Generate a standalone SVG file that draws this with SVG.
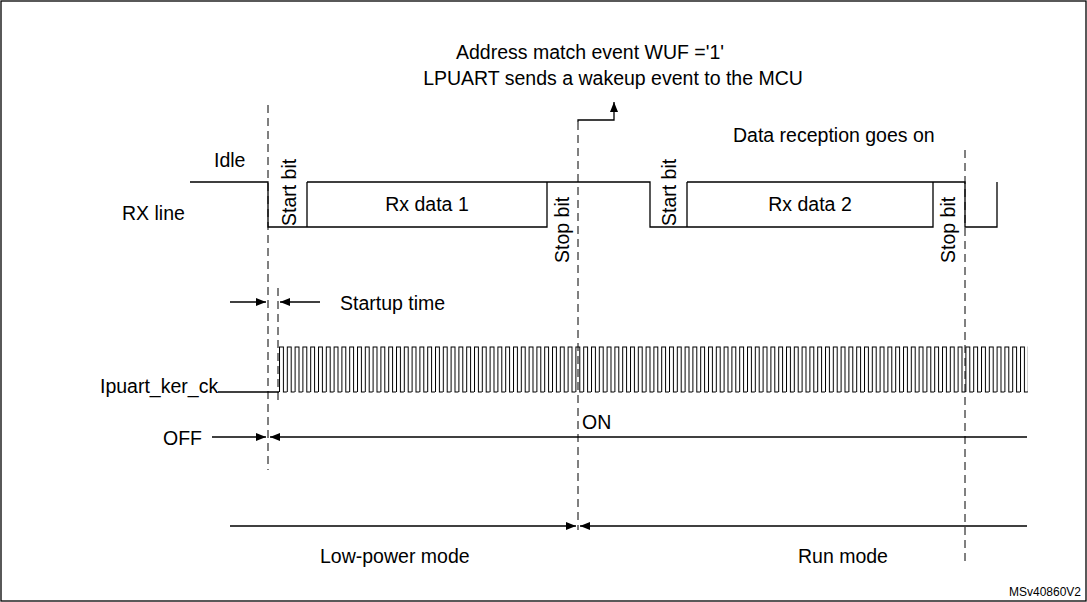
<svg xmlns="http://www.w3.org/2000/svg" width="1087" height="602" viewBox="0 0 1087 602">
<defs>
<style>
text{font-family:"Liberation Sans",Arial,sans-serif;font-size:19.5px;fill:#000}
.l{stroke:#000;stroke-width:1.3;fill:none}
.d{stroke:#000;stroke-width:1;fill:none;stroke-dasharray:8,5}
</style>
<marker id="a" markerWidth="10" markerHeight="8" refX="10" refY="4" orient="auto" markerUnits="userSpaceOnUse"><path d="M0,0L10,4L0,8z" fill="#000"/></marker>
<pattern id="clk" x="279" y="0" width="7.8" height="602" patternUnits="userSpaceOnUse">
<path d="M0.5,392V347H4.4V392H8.3" stroke="#000" stroke-width="1" fill="none"/>
</pattern>
</defs>
<rect x="1" y="1" width="1085" height="600" fill="#fff" stroke="#000" stroke-width="1.3"/>
<g id="labels">
<text x="590" y="59" text-anchor="middle">Address match event WUF ='1'</text>
<text x="613" y="85" text-anchor="middle">LPUART sends a wakeup event to the MCU</text>
<text x="733" y="142">Data reception goes on</text>
<text x="214" y="167">Idle</text>
<text x="122" y="220">RX line</text>
<text x="100" y="393">Ipuart_ker_ck</text>
<text x="340" y="310">Startup time</text>
<text x="163" y="445">OFF</text>
<text x="582" y="429">ON</text>
<text x="320" y="563">Low-power mode</text>
<text x="798" y="563">Run mode</text>
<text x="1081" y="596" text-anchor="end" style="font-size:12px">MSv40860V2</text>
</g>
<g id="rxline">
<path class="l" d="M190,182H268V227H307M307,182H547V227H307V182M547,182H650V227H687M687,182H933V227H687V182M933,182H965V227H997V182"/>
<text x="427" y="211" text-anchor="middle">Rx data 1</text>
<text x="810" y="211" text-anchor="middle">Rx data 2</text>
<text transform="translate(296,226) rotate(-90)">Start bit</text>
<text transform="translate(569,263) rotate(-90)">Stop bit</text>
<text transform="translate(676,226) rotate(-90)">Start bit</text>
<text transform="translate(955,263) rotate(-90)">Stop bit</text>
</g>
<g id="clock">
<path class="l" d="M218,392H279"/>
<rect x="279" y="340" width="749" height="60" fill="url(#clk)"/>
</g>
<g id="connectors">
<path class="d" d="M268,105V470"/>
<path class="d" d="M278,288V402"/>
<path class="d" d="M578,122V530"/>
<path class="d" d="M965,150V565"/>
<path class="l" d="M578,122V120H614V102" marker-end="url(#a)"/>
<path class="l" d="M230,302H266" marker-end="url(#a)"/>
<path class="l" d="M320,302H280" marker-end="url(#a)"/>
<path class="l" d="M212,437H266" marker-end="url(#a)"/>
<path class="l" d="M1027,437H270" marker-end="url(#a)"/>
<path class="l" d="M230,526H576" marker-end="url(#a)"/>
<path class="l" d="M1027,526H580" marker-end="url(#a)"/>
</g>
</svg>
